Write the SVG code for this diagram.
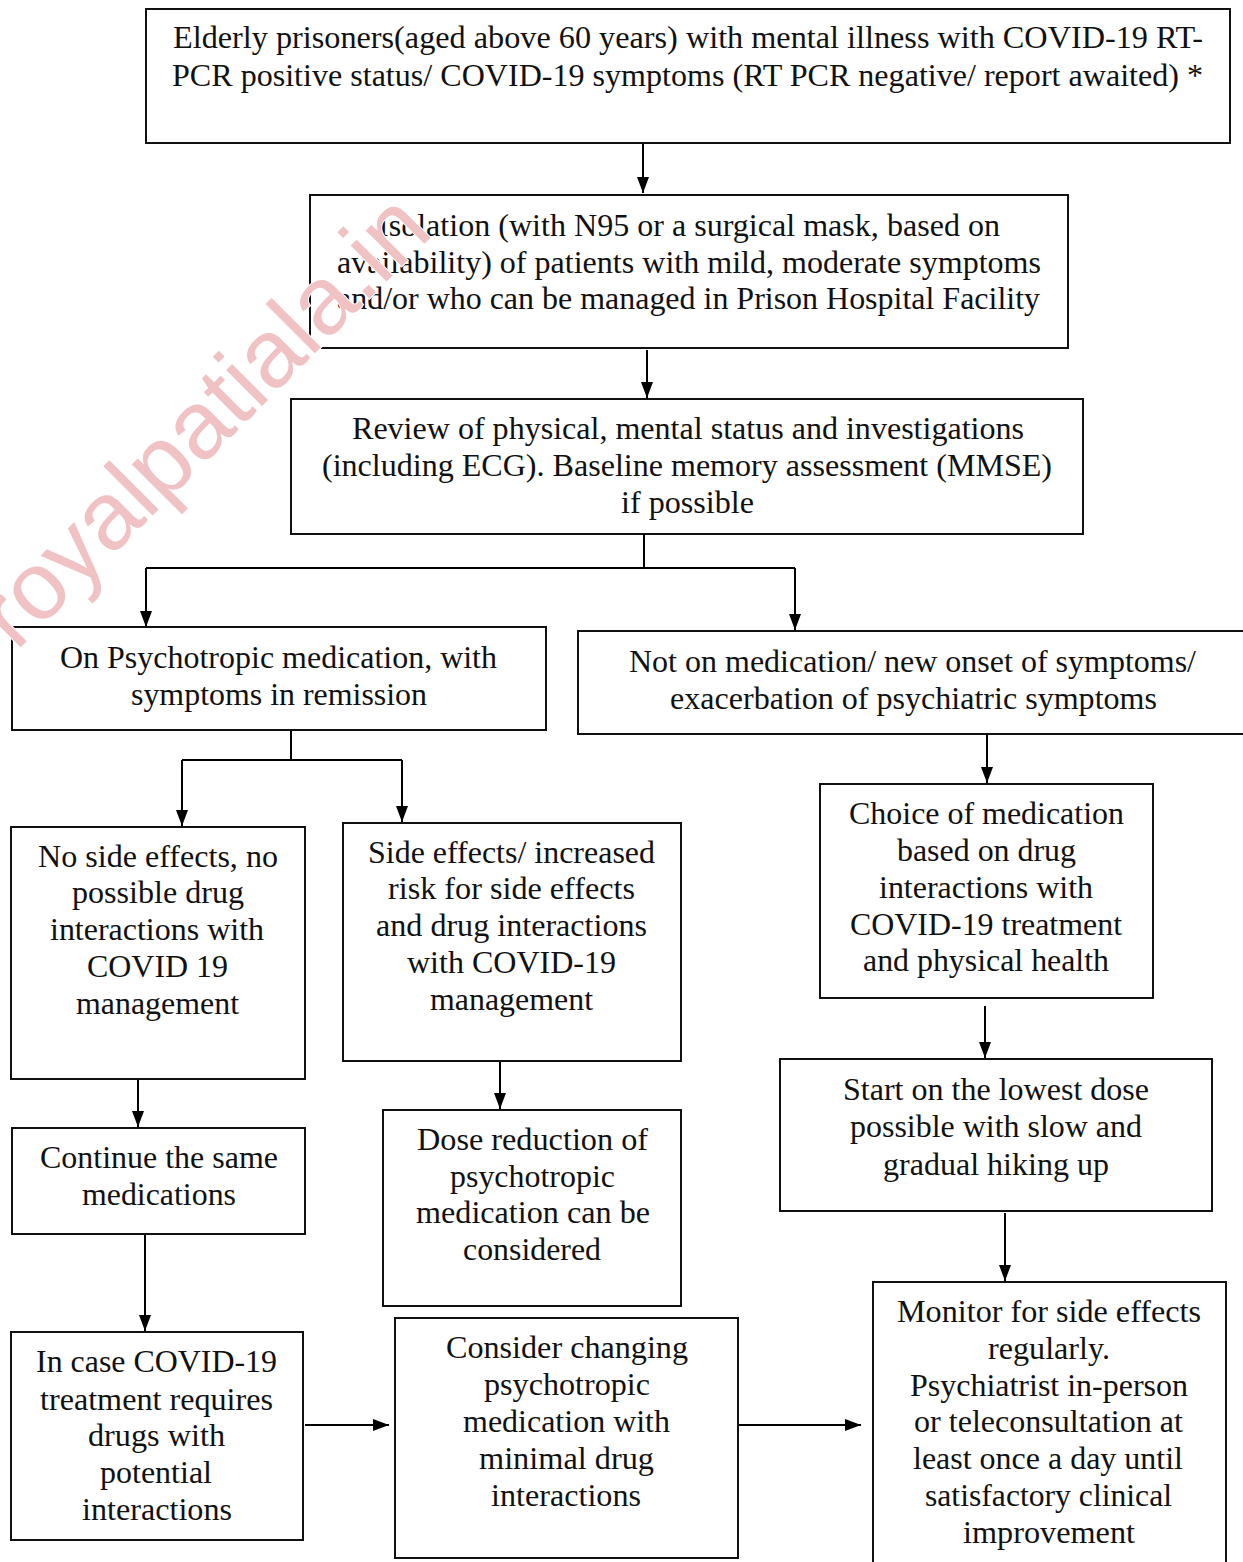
<svg xmlns="http://www.w3.org/2000/svg" width="1243" height="1562" viewBox="0 0 1243 1562">
  <defs>
    <marker id="arrow" viewBox="0 0 16 12" refX="16" refY="6" markerWidth="16" markerHeight="12" markerUnits="userSpaceOnUse" orient="auto">
      <path d="M0,0 L16,6 L0,12 Z" fill="#000"/>
    </marker>
    <style>
      .box { fill: #fff; stroke: #111; stroke-width: 2; }
      .lbl { font-family: "Liberation Serif", "Times New Roman", serif; font-size: 32px; fill: #111; }
      .wire { fill: none; stroke: #000; stroke-width: 2; }
      .tip { fill: none; stroke: #000; stroke-width: 2; marker-end: url(#arrow); }
      .mark { font-family: "Liberation Sans", Arial, sans-serif; font-size: 96px; fill: #f1c2c3; stroke: #fff; stroke-width: 2; paint-order: stroke; }
    </style>
  </defs>
  <rect width="1243" height="1562" fill="#fff"/>

  <!-- connectors -->
  <g id="connectors">
    <path class="tip" d="M643,143 V193"/>
    <path class="tip" d="M647,350 V398"/>
    <path class="wire" d="M644,534 V568 M146,568 H795"/>
    <path class="tip" d="M146,568 V627"/>
    <path class="tip" d="M795,568 V630"/>
    <path class="wire" d="M291,730 V760 M182,760 H402"/>
    <path class="tip" d="M182,760 V826"/>
    <path class="tip" d="M402,760 V822"/>
    <path class="tip" d="M987,734 V783"/>
    <path class="tip" d="M985,1006 V1058"/>
    <path class="tip" d="M1005,1213 V1281"/>
    <path class="tip" d="M138,1079 V1127"/>
    <path class="tip" d="M500,1062 V1109"/>
    <path class="tip" d="M145,1234 V1331"/>
    <path class="tip" d="M305,1425 H389"/>
    <path class="tip" d="M735,1425 H861"/>
  </g>

  <g id="n-elderly">
    <rect class="box" x="146" y="9" width="1084" height="134"/>
    <text class="lbl" x="173" y="48" textLength="1030" lengthAdjust="spacingAndGlyphs">Elderly prisoners(aged above 60 years) with mental illness with COVID-19 RT-</text>
    <text class="lbl" x="172" y="86" textLength="1031" lengthAdjust="spacingAndGlyphs">PCR positive status/ COVID-19 symptoms (RT PCR negative/ report awaited) *</text>
  </g>

  <g id="n-isolation">
    <rect class="box" x="310" y="195" width="758" height="153"/>
    <text class="lbl" x="378" y="236" textLength="622" lengthAdjust="spacingAndGlyphs">Isolation (with N95 or a surgical mask, based on</text>
    <text class="lbl" x="337" y="273" textLength="704" lengthAdjust="spacingAndGlyphs">availability) of patients with mild, moderate symptoms</text>
    <text class="lbl" x="337" y="309" textLength="703" lengthAdjust="spacingAndGlyphs">and/or who can be managed in Prison Hospital Facility</text>
  </g>

  <g id="n-review">
    <rect class="box" x="291" y="399" width="792" height="135"/>
    <text class="lbl" x="352" y="439" textLength="672" lengthAdjust="spacingAndGlyphs">Review of physical, mental status and investigations</text>
    <text class="lbl" x="322" y="476" textLength="730" lengthAdjust="spacingAndGlyphs">(including ECG). Baseline memory assessment (MMSE)</text>
    <text class="lbl" x="621" y="513" textLength="133" lengthAdjust="spacingAndGlyphs">if possible</text>
  </g>

  <g id="n-on-meds">
    <rect class="box" x="12" y="627" width="534" height="103"/>
    <text class="lbl" x="60" y="668" textLength="437" lengthAdjust="spacingAndGlyphs">On Psychotropic medication, with</text>
    <text class="lbl" x="131" y="705" textLength="296" lengthAdjust="spacingAndGlyphs">symptoms in remission</text>
  </g>

  <g id="n-not-on-meds">
    <rect class="box" x="578" y="631" width="690" height="103"/>
    <text class="lbl" x="629" y="672" textLength="567" lengthAdjust="spacingAndGlyphs">Not on medication/ new onset of symptoms/</text>
    <text class="lbl" x="670" y="709" textLength="487" lengthAdjust="spacingAndGlyphs">exacerbation of psychiatric symptoms</text>
  </g>

  <g id="n-no-side-effects">
    <rect class="box" x="11" y="827" width="294" height="252"/>
    <text class="lbl" x="38" y="867" textLength="240" lengthAdjust="spacingAndGlyphs">No side effects, no</text>
    <text class="lbl" x="72" y="903" textLength="172" lengthAdjust="spacingAndGlyphs">possible drug</text>
    <text class="lbl" x="50" y="940" textLength="214" lengthAdjust="spacingAndGlyphs">interactions with</text>
    <text class="lbl" x="87" y="977" textLength="141" lengthAdjust="spacingAndGlyphs">COVID 19</text>
    <text class="lbl" x="76" y="1014" textLength="163" lengthAdjust="spacingAndGlyphs">management</text>
  </g>

  <g id="n-side-effects">
    <rect class="box" x="343" y="823" width="338" height="238"/>
    <text class="lbl" x="368" y="863" textLength="287" lengthAdjust="spacingAndGlyphs">Side effects/ increased</text>
    <text class="lbl" x="388" y="899" textLength="247" lengthAdjust="spacingAndGlyphs">risk for side effects</text>
    <text class="lbl" x="376" y="936" textLength="271" lengthAdjust="spacingAndGlyphs">and drug interactions</text>
    <text class="lbl" x="407" y="973" textLength="209" lengthAdjust="spacingAndGlyphs">with COVID-19</text>
    <text class="lbl" x="430" y="1010" textLength="163" lengthAdjust="spacingAndGlyphs">management</text>
  </g>

  <g id="n-choice">
    <rect class="box" x="820" y="784" width="333" height="214"/>
    <text class="lbl" x="849" y="824" textLength="275" lengthAdjust="spacingAndGlyphs">Choice of medication</text>
    <text class="lbl" x="897" y="861" textLength="179" lengthAdjust="spacingAndGlyphs">based on drug</text>
    <text class="lbl" x="879" y="898" textLength="214" lengthAdjust="spacingAndGlyphs">interactions with</text>
    <text class="lbl" x="850" y="935" textLength="272" lengthAdjust="spacingAndGlyphs">COVID-19 treatment</text>
    <text class="lbl" x="863" y="971" textLength="246" lengthAdjust="spacingAndGlyphs">and physical health</text>
  </g>

  <g id="n-lowest-dose">
    <rect class="box" x="780" y="1059" width="432" height="152"/>
    <text class="lbl" x="843" y="1100" textLength="306" lengthAdjust="spacingAndGlyphs">Start on the lowest dose</text>
    <text class="lbl" x="850" y="1137" textLength="292" lengthAdjust="spacingAndGlyphs">possible with slow and</text>
    <text class="lbl" x="883" y="1175" textLength="226" lengthAdjust="spacingAndGlyphs">gradual hiking up</text>
  </g>

  <g id="n-monitor">
    <rect class="box" x="873" y="1282" width="353" height="300"/>
    <text class="lbl" x="897" y="1322" textLength="304" lengthAdjust="spacingAndGlyphs">Monitor for side effects</text>
    <text class="lbl" x="988" y="1359" textLength="122" lengthAdjust="spacingAndGlyphs">regularly.</text>
    <text class="lbl" x="910" y="1396" textLength="278" lengthAdjust="spacingAndGlyphs">Psychiatrist in-person</text>
    <text class="lbl" x="914" y="1432" textLength="269" lengthAdjust="spacingAndGlyphs">or teleconsultation at</text>
    <text class="lbl" x="913" y="1469" textLength="270" lengthAdjust="spacingAndGlyphs">least once a day until</text>
    <text class="lbl" x="925" y="1506" textLength="247" lengthAdjust="spacingAndGlyphs">satisfactory clinical</text>
    <text class="lbl" x="963" y="1543" textLength="172" lengthAdjust="spacingAndGlyphs">improvement</text>
  </g>

  <g id="n-continue">
    <rect class="box" x="12" y="1128" width="293" height="106"/>
    <text class="lbl" x="40" y="1168" textLength="238" lengthAdjust="spacingAndGlyphs">Continue the same</text>
    <text class="lbl" x="82" y="1205" textLength="154" lengthAdjust="spacingAndGlyphs">medications</text>
  </g>

  <g id="n-dose-reduction">
    <rect class="box" x="383" y="1110" width="298" height="196"/>
    <text class="lbl" x="417" y="1150" textLength="231" lengthAdjust="spacingAndGlyphs">Dose reduction of</text>
    <text class="lbl" x="450" y="1187" textLength="165" lengthAdjust="spacingAndGlyphs">psychotropic</text>
    <text class="lbl" x="416" y="1223" textLength="234" lengthAdjust="spacingAndGlyphs">medication can be</text>
    <text class="lbl" x="463" y="1260" textLength="138" lengthAdjust="spacingAndGlyphs">considered</text>
  </g>

  <g id="n-in-case">
    <rect class="box" x="11" y="1332" width="292" height="208"/>
    <text class="lbl" x="36" y="1372" textLength="241" lengthAdjust="spacingAndGlyphs">In case COVID-19</text>
    <text class="lbl" x="40" y="1410" textLength="233" lengthAdjust="spacingAndGlyphs">treatment requires</text>
    <text class="lbl" x="88" y="1446" textLength="137" lengthAdjust="spacingAndGlyphs">drugs with</text>
    <text class="lbl" x="100" y="1483" textLength="112" lengthAdjust="spacingAndGlyphs">potential</text>
    <text class="lbl" x="82" y="1520" textLength="150" lengthAdjust="spacingAndGlyphs">interactions</text>
  </g>

  <g id="n-consider">
    <rect class="box" x="395" y="1318" width="343" height="240"/>
    <text class="lbl" x="446" y="1358" textLength="242" lengthAdjust="spacingAndGlyphs">Consider changing</text>
    <text class="lbl" x="484" y="1395" textLength="166" lengthAdjust="spacingAndGlyphs">psychotropic</text>
    <text class="lbl" x="463" y="1432" textLength="207" lengthAdjust="spacingAndGlyphs">medication with</text>
    <text class="lbl" x="479" y="1469" textLength="175" lengthAdjust="spacingAndGlyphs">minimal drug</text>
    <text class="lbl" x="491" y="1506" textLength="150" lengthAdjust="spacingAndGlyphs">interactions</text>
  </g>

  <!-- site watermark laid over the upper-left corner -->
  <text class="mark" transform="translate(16,652) rotate(-45)">royalpatiala.in</text>
</svg>
